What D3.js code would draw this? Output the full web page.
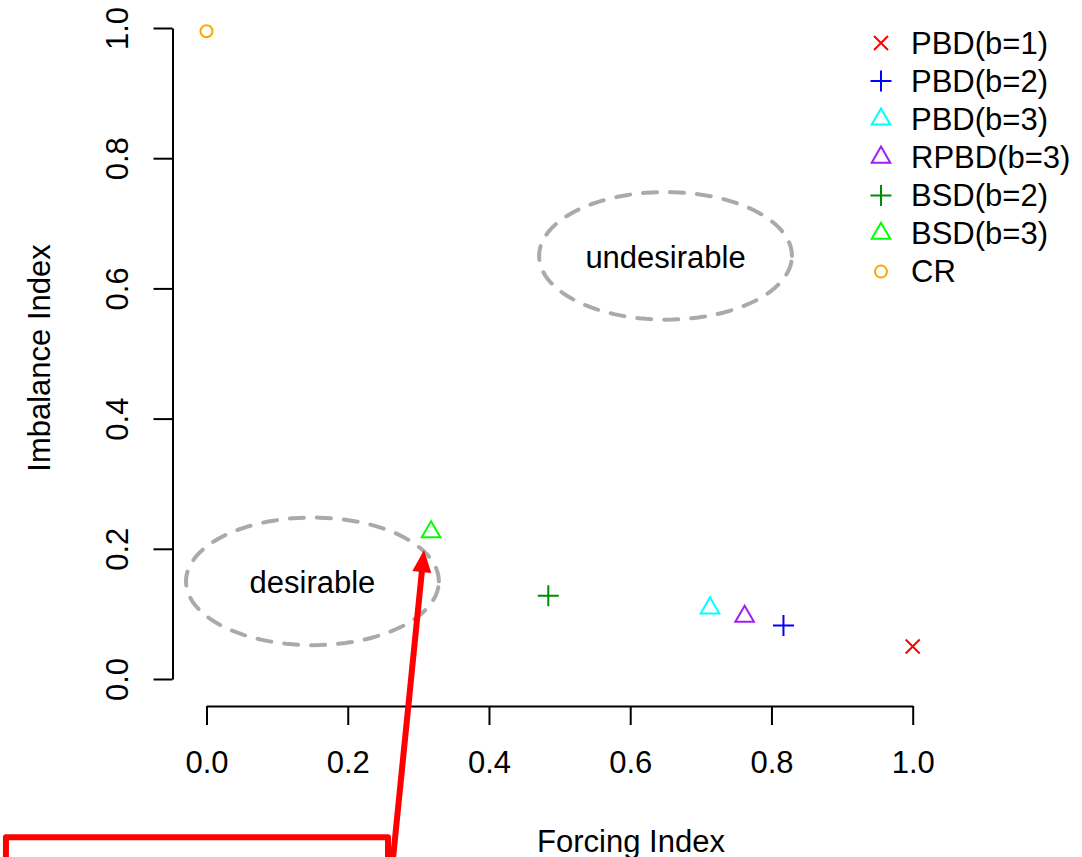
<!DOCTYPE html>
<html>
<head>
<meta charset="utf-8">
<script src="https://cdn.jsdelivr.net/npm/d3@7"></script>
<style>
  html, body { margin: 0; padding: 0; background: #fff; }
  svg { display: block; }
  text { font-family: "Liberation Sans", Arial, sans-serif; fill: #000; }
</style>
</head>
<body>
<svg id="chart" width="1082" height="857"></svg>
<script>
// ---- data ----
const seriesNames = ["PBD(b=1)", "PBD(b=2)", "PBD(b=3)", "RPBD(b=3)", "BSD(b=2)", "BSD(b=3)", "CR"];
const forcingIndex = [1.0, 0.817, 0.713, 0.762, 0.484, 0.318, 0.0];
const imbalanceIndex = [0.050, 0.082, 0.109, 0.096, 0.128, 0.226, 0.995];
const symbols = ["x", "plus", "triangle", "triangle", "plus", "triangle", "circle"];
const colors = ["#FF0000", "#0000FF", "#00FFFF", "#A020F0", "#008B00", "#00FF00", "#FFA500"];
const xTicks = [0, 0.2, 0.4, 0.6, 0.8, 1.0];
const yTicks = [0, 0.2, 0.4, 0.6, 0.8, 1.0];
const xTitle = "Forcing Index";
const yTitle = "Imbalance Index";
// regions (data units)
const regionLabels = ["desirable", "undesirable"];
const regionCx = [0.15, 0.65];
const regionCy = [0.15, 0.65];
const regionRx = [0.179, 0.179];
const regionRy = [0.098, 0.098];
// annotation arrow and box (data units)
const arrowFrom = [0.261, -0.309];
const arrowTo = [0.308, 0.198];
const boxX = [-0.284, 0.257];
const boxY = [-0.243, -0.34];

// ---- layout ----
const svg = d3.select("#chart");
const x = d3.scaleLinear().domain([0, 1]).range([206.5, 912.7]);
const y = d3.scaleLinear().domain([0, 1]).range([679, 28]);
const FS = 31;

// symbol drawer
function drawSymbol(g, type, cx, cy, color) {
  const sw = 2;
  if (type === "x") {
    const h = 7;
    g.append("path").attr("d", `M${cx-h},${cy-h}L${cx+h},${cy+h}M${cx-h},${cy+h}L${cx+h},${cy-h}`)
      .attr("stroke", color).attr("stroke-width", sw).attr("fill", "none");
  } else if (type === "plus") {
    const h = 10.5;
    g.append("path").attr("d", `M${cx-h},${cy}L${cx+h},${cy}M${cx},${cy-h}L${cx},${cy+h}`)
      .attr("stroke", color).attr("stroke-width", sw).attr("fill", "none");
  } else if (type === "triangle") {
    const s = 6.9;
    const r = 1.5551 * s, xc = 1.3468 * s, yc = 0.7776 * s;
    g.append("path").attr("d", `M${cx},${cy-r}L${cx+xc},${cy+yc}L${cx-xc},${cy+yc}Z`)
      .attr("stroke", color).attr("stroke-width", sw).attr("fill", "none");
  } else if (type === "circle") {
    g.append("circle").attr("cx", cx).attr("cy", cy).attr("r", 6)
      .attr("stroke", color).attr("stroke-width", sw).attr("fill", "none");
  }
}

// ---- axes ----
const xAxis = d3.axisBottom(x).tickValues(xTicks).tickFormat(d3.format(".1f")).tickSize(19).tickSizeOuter(0);
const gx = svg.append("g").attr("transform", "translate(0,706)").call(xAxis);
gx.selectAll("path.domain").attr("stroke", "#000").attr("stroke-width", 2);
gx.selectAll(".tick line").attr("stroke", "#000").attr("stroke-width", 2);
gx.selectAll(".tick text").attr("y", 67).attr("dy", null).attr("font-size", FS)
  .attr("font-family", "Liberation Sans, Arial, sans-serif").attr("fill", "#000");

const yAxis = d3.axisLeft(y).tickValues(yTicks).tickFormat(d3.format(".1f")).tickSize(19).tickSizeOuter(0);
const gy = svg.append("g").attr("transform", "translate(172.5,0)").call(yAxis);
gy.selectAll("path.domain").attr("stroke", "#000").attr("stroke-width", 2);
gy.selectAll(".tick line").attr("stroke", "#000").attr("stroke-width", 2);
gy.selectAll(".tick text").attr("x", null).attr("dy", null)
  .attr("transform", "translate(-44.5,0) rotate(-90)")
  .attr("text-anchor", "middle").attr("font-size", FS)
  .attr("font-family", "Liberation Sans, Arial, sans-serif").attr("fill", "#000");
gx.attr("font-family", null).attr("font-size", null);
gy.attr("font-family", null).attr("font-size", null);

// titles
svg.append("text").attr("x", 631).attr("y", 852).attr("text-anchor", "middle")
  .attr("font-size", FS).text(xTitle);
svg.append("text").attr("transform", "translate(50,358) rotate(-90)").attr("text-anchor", "middle")
  .attr("font-size", FS).text(yTitle);

// ---- region ellipses ----
regionLabels.forEach((lab, i) => {
  const pts = d3.range(0, 361, 3).map(a => {
    const t = a * Math.PI / 180;
    return [x(regionCx[i] + regionRx[i] * Math.cos(t)), y(regionCy[i] + regionRy[i] * Math.sin(t))];
  });
  svg.append("path").attr("d", d3.line()(pts) + "Z")
    .attr("fill", "none").attr("stroke", "#AAAAAA").attr("stroke-width", 4)
    .attr("stroke-dasharray", "14,13").attr("stroke-linecap", "round");
  svg.append("text").attr("x", x(regionCx[i])).attr("y", y(regionCy[i])).attr("dy", 12)
    .attr("text-anchor", "middle").attr("font-size", FS).text(lab);
});

// ---- points ----
const gp = svg.append("g");
seriesNames.forEach((n, i) => {
  drawSymbol(gp, symbols[i], x(forcingIndex[i]), y(imbalanceIndex[i]), colors[i]);
});

// ---- legend ----
const gl = svg.append("g");
seriesNames.forEach((n, i) => {
  const cy = 43 + i * 38.1;
  drawSymbol(gl, symbols[i], 881, cy, colors[i]);
  gl.append("text").attr("x", 911).attr("y", cy + 10.5).attr("font-size", FS).text(n);
});

// ---- annotation: arrow and box ----
const ax0 = x(arrowFrom[0]), ay0 = y(arrowFrom[1]);
const ax1 = x(arrowTo[0]), ay1 = y(arrowTo[1]);
const ang = Math.atan2(ay1 - ay0, ax1 - ax0);
const headLen = 22, headHalf = 9.5;
const bx = ax1 - headLen * Math.cos(ang), by = ay1 - headLen * Math.sin(ang);
svg.append("line").attr("x1", ax0).attr("y1", ay0).attr("x2", bx + 3 * Math.cos(ang)).attr("y2", by + 3 * Math.sin(ang))
  .attr("stroke", "#FF0000").attr("stroke-width", 6);
const px = -Math.sin(ang), py = Math.cos(ang);
svg.append("path")
  .attr("d", `M${ax1},${ay1}L${bx + headHalf * px},${by + headHalf * py}L${bx - headHalf * px},${by - headHalf * py}Z`)
  .attr("fill", "#FF0000");
svg.append("path")
  .attr("d", `M${x(boxX[0])},${y(boxY[1])}L${x(boxX[0])},${y(boxY[0])}L${x(boxX[1])},${y(boxY[0])}L${x(boxX[1])},${y(boxY[1])}`)
  .attr("fill", "none").attr("stroke", "#FF0000").attr("stroke-width", 6).attr("stroke-linejoin", "round");
</script>
</body>
</html>
